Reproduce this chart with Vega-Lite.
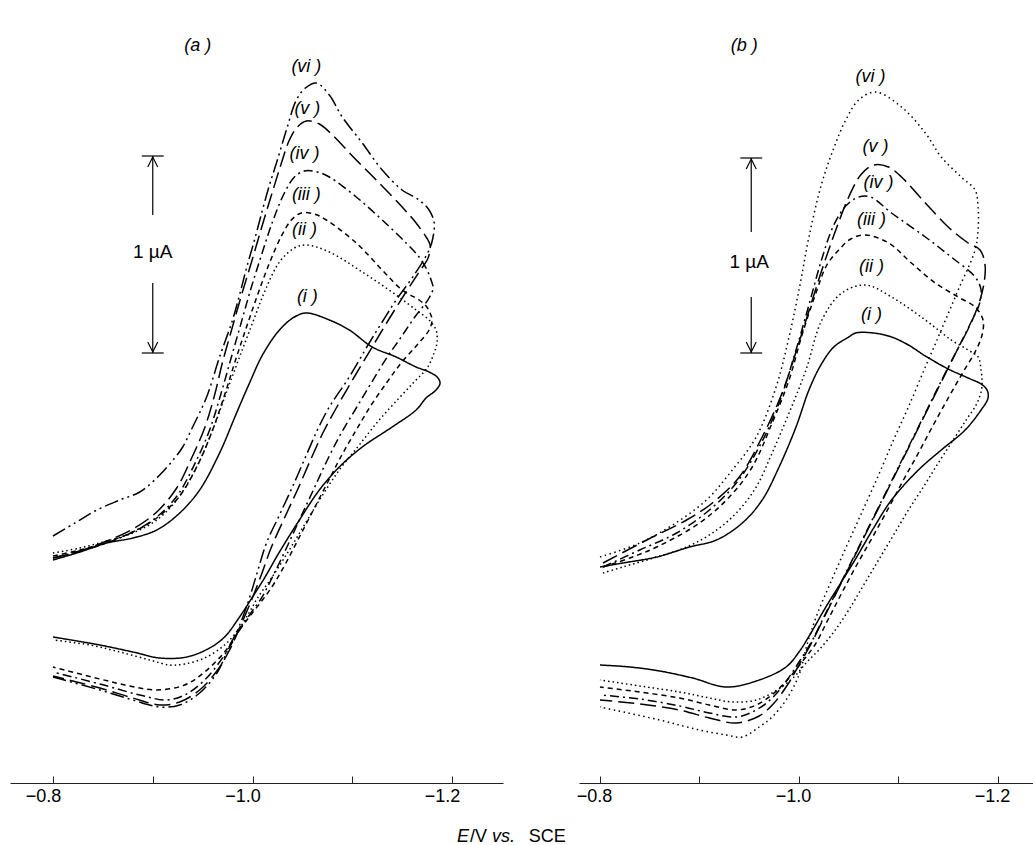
{
"$schema":"https://vega.github.io/schema/vega-lite/v6.json",
"background":"white",
"padding":{"left":10,"top":10,"right":0,"bottom":0},
"autosize":{"type":"pad"},
"spacing":76,
"bounds":"flush",
"resolve":{"scale":{"strokeDash":"independent"}},
"config":{"view":{"stroke":null},"font":"Liberation Sans","text":{"font":"Liberation Sans","color":"black"}},
"datasets":{
"cv":[
{"p":"a","c":"i","o":1,"E":-0.800,"I":1.115},{"p":"a","c":"i","o":2,"E":-0.827,"I":1.155},{"p":"a","c":"i","o":3,"E":-0.854,"I":1.200},{"p":"a","c":"i","o":4,"E":-0.880,"I":1.225},{"p":"a","c":"i","o":5,"E":-0.904,"I":1.265},{"p":"a","c":"i","o":6,"E":-0.927,"I":1.350},{"p":"a","c":"i","o":7,"E":-0.947,"I":1.465},{"p":"a","c":"i","o":8,"E":-0.967,"I":1.650},{"p":"a","c":"i","o":9,"E":-0.984,"I":1.850},{"p":"a","c":"i","o":10,"E":-0.997,"I":2.000},{"p":"a","c":"i","o":11,"E":-1.010,"I":2.140},{"p":"a","c":"i","o":12,"E":-1.027,"I":2.265},{"p":"a","c":"i","o":13,"E":-1.042,"I":2.330},{"p":"a","c":"i","o":14,"E":-1.054,"I":2.350},{"p":"a","c":"i","o":15,"E":-1.077,"I":2.315},{"p":"a","c":"i","o":16,"E":-1.097,"I":2.265},{"p":"a","c":"i","o":17,"E":-1.120,"I":2.180},{"p":"a","c":"i","o":18,"E":-1.144,"I":2.130},{"p":"a","c":"i","o":19,"E":-1.164,"I":2.080},{"p":"a","c":"i","o":20,"E":-1.177,"I":2.055},{"p":"a","c":"i","o":21,"E":-1.185,"I":2.030},{"p":"a","c":"i","o":22,"E":-1.188,"I":2.000},{"p":"a","c":"i","o":23,"E":-1.184,"I":1.965},{"p":"a","c":"i","o":24,"E":-1.174,"I":1.925},{"p":"a","c":"i","o":25,"E":-1.164,"I":1.865},{"p":"a","c":"i","o":26,"E":-1.140,"I":1.780},{"p":"a","c":"i","o":27,"E":-1.110,"I":1.680},{"p":"a","c":"i","o":28,"E":-1.087,"I":1.580},{"p":"a","c":"i","o":29,"E":-1.067,"I":1.465},{"p":"a","c":"i","o":30,"E":-1.047,"I":1.315},{"p":"a","c":"i","o":31,"E":-1.027,"I":1.155},{"p":"a","c":"i","o":32,"E":-1.012,"I":1.025},{"p":"a","c":"i","o":33,"E":-1.000,"I":0.930},{"p":"a","c":"i","o":34,"E":-0.987,"I":0.830},{"p":"a","c":"i","o":35,"E":-0.972,"I":0.730},{"p":"a","c":"i","o":36,"E":-0.957,"I":0.675},{"p":"a","c":"i","o":37,"E":-0.934,"I":0.630},{"p":"a","c":"i","o":38,"E":-0.907,"I":0.625},{"p":"a","c":"i","o":39,"E":-0.880,"I":0.655},{"p":"a","c":"i","o":40,"E":-0.847,"I":0.690},{"p":"a","c":"i","o":41,"E":-0.800,"I":0.730},
{"p":"a","c":"ii","o":1,"E":-0.800,"I":1.150},{"p":"a","c":"ii","o":2,"E":-0.827,"I":1.175},{"p":"a","c":"ii","o":3,"E":-0.854,"I":1.210},{"p":"a","c":"ii","o":4,"E":-0.880,"I":1.250},{"p":"a","c":"ii","o":5,"E":-0.904,"I":1.315},{"p":"a","c":"ii","o":6,"E":-0.924,"I":1.415},{"p":"a","c":"ii","o":7,"E":-0.944,"I":1.580},{"p":"a","c":"ii","o":8,"E":-0.960,"I":1.765},{"p":"a","c":"ii","o":9,"E":-0.974,"I":1.955},{"p":"a","c":"ii","o":10,"E":-0.987,"I":2.130},{"p":"a","c":"ii","o":11,"E":-1.000,"I":2.300},{"p":"a","c":"ii","o":12,"E":-1.012,"I":2.455},{"p":"a","c":"ii","o":13,"E":-1.027,"I":2.605},{"p":"a","c":"ii","o":14,"E":-1.042,"I":2.675},{"p":"a","c":"ii","o":15,"E":-1.054,"I":2.690},{"p":"a","c":"ii","o":16,"E":-1.077,"I":2.655},{"p":"a","c":"ii","o":17,"E":-1.110,"I":2.555},{"p":"a","c":"ii","o":18,"E":-1.144,"I":2.440},{"p":"a","c":"ii","o":19,"E":-1.164,"I":2.365},{"p":"a","c":"ii","o":20,"E":-1.177,"I":2.315},{"p":"a","c":"ii","o":21,"E":-1.184,"I":2.265},{"p":"a","c":"ii","o":22,"E":-1.185,"I":2.205},{"p":"a","c":"ii","o":23,"E":-1.182,"I":2.150},{"p":"a","c":"ii","o":24,"E":-1.175,"I":2.075},{"p":"a","c":"ii","o":25,"E":-1.162,"I":2.005},{"p":"a","c":"ii","o":26,"E":-1.147,"I":1.925},{"p":"a","c":"ii","o":27,"E":-1.127,"I":1.815},{"p":"a","c":"ii","o":28,"E":-1.107,"I":1.690},{"p":"a","c":"ii","o":29,"E":-1.087,"I":1.565},{"p":"a","c":"ii","o":30,"E":-1.069,"I":1.430},{"p":"a","c":"ii","o":31,"E":-1.052,"I":1.290},{"p":"a","c":"ii","o":32,"E":-1.035,"I":1.150},{"p":"a","c":"ii","o":33,"E":-1.019,"I":1.025},{"p":"a","c":"ii","o":34,"E":-1.005,"I":0.925},{"p":"a","c":"ii","o":35,"E":-0.997,"I":0.855},{"p":"a","c":"ii","o":36,"E":-0.987,"I":0.775},{"p":"a","c":"ii","o":37,"E":-0.972,"I":0.690},{"p":"a","c":"ii","o":38,"E":-0.952,"I":0.625},{"p":"a","c":"ii","o":39,"E":-0.932,"I":0.595},{"p":"a","c":"ii","o":40,"E":-0.917,"I":0.590},{"p":"a","c":"ii","o":41,"E":-0.897,"I":0.615},{"p":"a","c":"ii","o":42,"E":-0.867,"I":0.655},{"p":"a","c":"ii","o":43,"E":-0.837,"I":0.690},{"p":"a","c":"ii","o":44,"E":-0.800,"I":0.715},
{"p":"a","c":"iii","o":1,"E":-0.800,"I":1.135},{"p":"a","c":"iii","o":2,"E":-0.827,"I":1.165},{"p":"a","c":"iii","o":3,"E":-0.854,"I":1.205},{"p":"a","c":"iii","o":4,"E":-0.880,"I":1.255},{"p":"a","c":"iii","o":5,"E":-0.904,"I":1.325},{"p":"a","c":"iii","o":6,"E":-0.927,"I":1.435},{"p":"a","c":"iii","o":7,"E":-0.946,"I":1.600},{"p":"a","c":"iii","o":8,"E":-0.960,"I":1.765},{"p":"a","c":"iii","o":9,"E":-0.972,"I":1.940},{"p":"a","c":"iii","o":10,"E":-0.983,"I":2.115},{"p":"a","c":"iii","o":11,"E":-0.994,"I":2.280},{"p":"a","c":"iii","o":12,"E":-1.005,"I":2.440},{"p":"a","c":"iii","o":13,"E":-1.017,"I":2.600},{"p":"a","c":"iii","o":14,"E":-1.029,"I":2.735},{"p":"a","c":"iii","o":15,"E":-1.039,"I":2.815},{"p":"a","c":"iii","o":16,"E":-1.049,"I":2.850},{"p":"a","c":"iii","o":17,"E":-1.062,"I":2.845},{"p":"a","c":"iii","o":18,"E":-1.074,"I":2.815},{"p":"a","c":"iii","o":19,"E":-1.104,"I":2.700},{"p":"a","c":"iii","o":20,"E":-1.130,"I":2.565},{"p":"a","c":"iii","o":21,"E":-1.150,"I":2.465},{"p":"a","c":"iii","o":22,"E":-1.167,"I":2.415},{"p":"a","c":"iii","o":23,"E":-1.174,"I":2.385},{"p":"a","c":"iii","o":24,"E":-1.178,"I":2.350},{"p":"a","c":"iii","o":25,"E":-1.180,"I":2.315},{"p":"a","c":"iii","o":26,"E":-1.177,"I":2.265},{"p":"a","c":"iii","o":27,"E":-1.165,"I":2.190},{"p":"a","c":"iii","o":28,"E":-1.149,"I":2.100},{"p":"a","c":"iii","o":29,"E":-1.135,"I":2.005},{"p":"a","c":"iii","o":30,"E":-1.119,"I":1.890},{"p":"a","c":"iii","o":31,"E":-1.104,"I":1.765},{"p":"a","c":"iii","o":32,"E":-1.089,"I":1.635},{"p":"a","c":"iii","o":33,"E":-1.075,"I":1.500},{"p":"a","c":"iii","o":34,"E":-1.061,"I":1.365},{"p":"a","c":"iii","o":35,"E":-1.047,"I":1.230},{"p":"a","c":"iii","o":36,"E":-1.034,"I":1.105},{"p":"a","c":"iii","o":37,"E":-1.022,"I":1.000},{"p":"a","c":"iii","o":38,"E":-1.010,"I":0.915},{"p":"a","c":"iii","o":39,"E":-0.999,"I":0.845},{"p":"a","c":"iii","o":40,"E":-0.987,"I":0.765},{"p":"a","c":"iii","o":41,"E":-0.972,"I":0.655},{"p":"a","c":"iii","o":42,"E":-0.952,"I":0.555},{"p":"a","c":"iii","o":43,"E":-0.932,"I":0.490},{"p":"a","c":"iii","o":44,"E":-0.904,"I":0.465},{"p":"a","c":"iii","o":45,"E":-0.877,"I":0.485},{"p":"a","c":"iii","o":46,"E":-0.847,"I":0.520},{"p":"a","c":"iii","o":47,"E":-0.800,"I":0.580},
{"p":"a","c":"iv","o":1,"E":-0.800,"I":1.125},{"p":"a","c":"iv","o":2,"E":-0.827,"I":1.160},{"p":"a","c":"iv","o":3,"E":-0.854,"I":1.200},{"p":"a","c":"iv","o":4,"E":-0.880,"I":1.255},{"p":"a","c":"iv","o":5,"E":-0.904,"I":1.330},{"p":"a","c":"iv","o":6,"E":-0.925,"I":1.440},{"p":"a","c":"iv","o":7,"E":-0.943,"I":1.605},{"p":"a","c":"iv","o":8,"E":-0.957,"I":1.765},{"p":"a","c":"iv","o":9,"E":-0.968,"I":1.940},{"p":"a","c":"iv","o":10,"E":-0.978,"I":2.115},{"p":"a","c":"iv","o":11,"E":-0.988,"I":2.290},{"p":"a","c":"iv","o":12,"E":-0.998,"I":2.465},{"p":"a","c":"iv","o":13,"E":-1.009,"I":2.640},{"p":"a","c":"iv","o":14,"E":-1.020,"I":2.805},{"p":"a","c":"iv","o":15,"E":-1.032,"I":2.950},{"p":"a","c":"iv","o":16,"E":-1.042,"I":3.030},{"p":"a","c":"iv","o":17,"E":-1.052,"I":3.060},{"p":"a","c":"iv","o":18,"E":-1.065,"I":3.055},{"p":"a","c":"iv","o":19,"E":-1.077,"I":3.030},{"p":"a","c":"iv","o":20,"E":-1.104,"I":2.930},{"p":"a","c":"iv","o":21,"E":-1.130,"I":2.815},{"p":"a","c":"iv","o":22,"E":-1.154,"I":2.700},{"p":"a","c":"iv","o":23,"E":-1.167,"I":2.630},{"p":"a","c":"iv","o":24,"E":-1.175,"I":2.565},{"p":"a","c":"iv","o":25,"E":-1.179,"I":2.515},{"p":"a","c":"iv","o":26,"E":-1.181,"I":2.475},{"p":"a","c":"iv","o":27,"E":-1.177,"I":2.425},{"p":"a","c":"iv","o":28,"E":-1.162,"I":2.325},{"p":"a","c":"iv","o":29,"E":-1.147,"I":2.215},{"p":"a","c":"iv","o":30,"E":-1.135,"I":2.130},{"p":"a","c":"iv","o":31,"E":-1.119,"I":2.000},{"p":"a","c":"iv","o":32,"E":-1.104,"I":1.875},{"p":"a","c":"iv","o":33,"E":-1.089,"I":1.750},{"p":"a","c":"iv","o":34,"E":-1.075,"I":1.615},{"p":"a","c":"iv","o":35,"E":-1.061,"I":1.465},{"p":"a","c":"iv","o":36,"E":-1.047,"I":1.315},{"p":"a","c":"iv","o":37,"E":-1.034,"I":1.175},{"p":"a","c":"iv","o":38,"E":-1.021,"I":1.040},{"p":"a","c":"iv","o":39,"E":-1.009,"I":0.925},{"p":"a","c":"iv","o":40,"E":-0.999,"I":0.855},{"p":"a","c":"iv","o":41,"E":-0.987,"I":0.765},{"p":"a","c":"iv","o":42,"E":-0.972,"I":0.640},{"p":"a","c":"iv","o":43,"E":-0.952,"I":0.515},{"p":"a","c":"iv","o":44,"E":-0.932,"I":0.440},{"p":"a","c":"iv","o":45,"E":-0.914,"I":0.415},{"p":"a","c":"iv","o":46,"E":-0.887,"I":0.440},{"p":"a","c":"iv","o":47,"E":-0.847,"I":0.495},{"p":"a","c":"iv","o":48,"E":-0.800,"I":0.555},
{"p":"a","c":"v","o":1,"E":-0.800,"I":1.125},{"p":"a","c":"v","o":2,"E":-0.827,"I":1.160},{"p":"a","c":"v","o":3,"E":-0.854,"I":1.210},{"p":"a","c":"v","o":4,"E":-0.880,"I":1.270},{"p":"a","c":"v","o":5,"E":-0.904,"I":1.355},{"p":"a","c":"v","o":6,"E":-0.924,"I":1.475},{"p":"a","c":"v","o":7,"E":-0.939,"I":1.625},{"p":"a","c":"v","o":8,"E":-0.952,"I":1.775},{"p":"a","c":"v","o":9,"E":-0.962,"I":1.940},{"p":"a","c":"v","o":10,"E":-0.970,"I":2.105},{"p":"a","c":"v","o":11,"E":-0.979,"I":2.265},{"p":"a","c":"v","o":12,"E":-0.989,"I":2.440},{"p":"a","c":"v","o":13,"E":-0.999,"I":2.605},{"p":"a","c":"v","o":14,"E":-1.009,"I":2.775},{"p":"a","c":"v","o":15,"E":-1.019,"I":2.940},{"p":"a","c":"v","o":16,"E":-1.029,"I":3.100},{"p":"a","c":"v","o":17,"E":-1.037,"I":3.215},{"p":"a","c":"v","o":18,"E":-1.045,"I":3.280},{"p":"a","c":"v","o":19,"E":-1.054,"I":3.310},{"p":"a","c":"v","o":20,"E":-1.067,"I":3.295},{"p":"a","c":"v","o":21,"E":-1.077,"I":3.255},{"p":"a","c":"v","o":22,"E":-1.104,"I":3.115},{"p":"a","c":"v","o":23,"E":-1.127,"I":3.000},{"p":"a","c":"v","o":24,"E":-1.150,"I":2.880},{"p":"a","c":"v","o":25,"E":-1.164,"I":2.800},{"p":"a","c":"v","o":26,"E":-1.174,"I":2.730},{"p":"a","c":"v","o":27,"E":-1.178,"I":2.690},{"p":"a","c":"v","o":28,"E":-1.176,"I":2.625},{"p":"a","c":"v","o":29,"E":-1.167,"I":2.555},{"p":"a","c":"v","o":30,"E":-1.152,"I":2.440},{"p":"a","c":"v","o":31,"E":-1.135,"I":2.305},{"p":"a","c":"v","o":32,"E":-1.120,"I":2.180},{"p":"a","c":"v","o":33,"E":-1.102,"I":2.030},{"p":"a","c":"v","o":34,"E":-1.084,"I":1.875},{"p":"a","c":"v","o":35,"E":-1.071,"I":1.755},{"p":"a","c":"v","o":36,"E":-1.059,"I":1.625},{"p":"a","c":"v","o":37,"E":-1.045,"I":1.465},{"p":"a","c":"v","o":38,"E":-1.032,"I":1.325},{"p":"a","c":"v","o":39,"E":-1.019,"I":1.180},{"p":"a","c":"v","o":40,"E":-1.008,"I":1.030},{"p":"a","c":"v","o":41,"E":-0.997,"I":0.890},{"p":"a","c":"v","o":42,"E":-0.987,"I":0.775},{"p":"a","c":"v","o":43,"E":-0.977,"I":0.665},{"p":"a","c":"v","o":44,"E":-0.965,"I":0.565},{"p":"a","c":"v","o":45,"E":-0.947,"I":0.465},{"p":"a","c":"v","o":46,"E":-0.927,"I":0.405},{"p":"a","c":"v","o":47,"E":-0.907,"I":0.390},{"p":"a","c":"v","o":48,"E":-0.880,"I":0.425},{"p":"a","c":"v","o":49,"E":-0.847,"I":0.475},{"p":"a","c":"v","o":50,"E":-0.800,"I":0.535},
{"p":"a","c":"vi","o":1,"E":-0.800,"I":1.235},{"p":"a","c":"vi","o":2,"E":-0.822,"I":1.300},{"p":"a","c":"vi","o":3,"E":-0.844,"I":1.365},{"p":"a","c":"vi","o":4,"E":-0.867,"I":1.415},{"p":"a","c":"vi","o":5,"E":-0.887,"I":1.455},{"p":"a","c":"vi","o":6,"E":-0.907,"I":1.540},{"p":"a","c":"vi","o":7,"E":-0.922,"I":1.625},{"p":"a","c":"vi","o":8,"E":-0.930,"I":1.680},{"p":"a","c":"vi","o":9,"E":-0.940,"I":1.780},{"p":"a","c":"vi","o":10,"E":-0.954,"I":1.930},{"p":"a","c":"vi","o":11,"E":-0.967,"I":2.130},{"p":"a","c":"vi","o":12,"E":-0.980,"I":2.315},{"p":"a","c":"vi","o":13,"E":-0.987,"I":2.440},{"p":"a","c":"vi","o":14,"E":-0.994,"I":2.575},{"p":"a","c":"vi","o":15,"E":-1.002,"I":2.715},{"p":"a","c":"vi","o":16,"E":-1.010,"I":2.865},{"p":"a","c":"vi","o":17,"E":-1.017,"I":2.990},{"p":"a","c":"vi","o":18,"E":-1.024,"I":3.100},{"p":"a","c":"vi","o":19,"E":-1.034,"I":3.265},{"p":"a","c":"vi","o":20,"E":-1.044,"I":3.415},{"p":"a","c":"vi","o":21,"E":-1.053,"I":3.475},{"p":"a","c":"vi","o":22,"E":-1.064,"I":3.500},{"p":"a","c":"vi","o":23,"E":-1.077,"I":3.440},{"p":"a","c":"vi","o":24,"E":-1.090,"I":3.330},{"p":"a","c":"vi","o":25,"E":-1.110,"I":3.200},{"p":"a","c":"vi","o":26,"E":-1.130,"I":3.065},{"p":"a","c":"vi","o":27,"E":-1.150,"I":2.965},{"p":"a","c":"vi","o":28,"E":-1.167,"I":2.915},{"p":"a","c":"vi","o":29,"E":-1.177,"I":2.865},{"p":"a","c":"vi","o":30,"E":-1.182,"I":2.805},{"p":"a","c":"vi","o":31,"E":-1.181,"I":2.730},{"p":"a","c":"vi","o":32,"E":-1.177,"I":2.665},{"p":"a","c":"vi","o":33,"E":-1.162,"I":2.540},{"p":"a","c":"vi","o":34,"E":-1.144,"I":2.415},{"p":"a","c":"vi","o":35,"E":-1.130,"I":2.305},{"p":"a","c":"vi","o":36,"E":-1.117,"I":2.200},{"p":"a","c":"vi","o":37,"E":-1.097,"I":2.030},{"p":"a","c":"vi","o":38,"E":-1.077,"I":1.880},{"p":"a","c":"vi","o":39,"E":-1.065,"I":1.765},{"p":"a","c":"vi","o":40,"E":-1.054,"I":1.640},{"p":"a","c":"vi","o":41,"E":-1.040,"I":1.480},{"p":"a","c":"vi","o":42,"E":-1.027,"I":1.340},{"p":"a","c":"vi","o":43,"E":-1.014,"I":1.200},{"p":"a","c":"vi","o":44,"E":-1.004,"I":1.040},{"p":"a","c":"vi","o":45,"E":-0.994,"I":0.880},{"p":"a","c":"vi","o":46,"E":-0.985,"I":0.765},{"p":"a","c":"vi","o":47,"E":-0.975,"I":0.665},{"p":"a","c":"vi","o":48,"E":-0.965,"I":0.555},{"p":"a","c":"vi","o":49,"E":-0.947,"I":0.450},{"p":"a","c":"vi","o":50,"E":-0.927,"I":0.390},{"p":"a","c":"vi","o":51,"E":-0.907,"I":0.380},{"p":"a","c":"vi","o":52,"E":-0.880,"I":0.415},{"p":"a","c":"vi","o":53,"E":-0.847,"I":0.465},{"p":"a","c":"vi","o":54,"E":-0.800,"I":0.530},
{"p":"b","c":"i","o":1,"E":-0.800,"I":1.080},{"p":"b","c":"i","o":2,"E":-0.823,"I":1.100},{"p":"b","c":"i","o":3,"E":-0.857,"I":1.130},{"p":"b","c":"i","o":4,"E":-0.890,"I":1.180},{"p":"b","c":"i","o":5,"E":-0.917,"I":1.215},{"p":"b","c":"i","o":6,"E":-0.943,"I":1.300},{"p":"b","c":"i","o":7,"E":-0.963,"I":1.415},{"p":"b","c":"i","o":8,"E":-0.980,"I":1.580},{"p":"b","c":"i","o":9,"E":-0.997,"I":1.780},{"p":"b","c":"i","o":10,"E":-1.010,"I":1.965},{"p":"b","c":"i","o":11,"E":-1.022,"I":2.090},{"p":"b","c":"i","o":12,"E":-1.035,"I":2.180},{"p":"b","c":"i","o":13,"E":-1.050,"I":2.230},{"p":"b","c":"i","o":14,"E":-1.057,"I":2.250},{"p":"b","c":"i","o":15,"E":-1.075,"I":2.250},{"p":"b","c":"i","o":16,"E":-1.093,"I":2.230},{"p":"b","c":"i","o":17,"E":-1.110,"I":2.190},{"p":"b","c":"i","o":18,"E":-1.127,"I":2.135},{"p":"b","c":"i","o":19,"E":-1.150,"I":2.070},{"p":"b","c":"i","o":20,"E":-1.170,"I":2.025},{"p":"b","c":"i","o":21,"E":-1.183,"I":1.995},{"p":"b","c":"i","o":22,"E":-1.189,"I":1.965},{"p":"b","c":"i","o":23,"E":-1.190,"I":1.925},{"p":"b","c":"i","o":24,"E":-1.183,"I":1.865},{"p":"b","c":"i","o":25,"E":-1.167,"I":1.765},{"p":"b","c":"i","o":26,"E":-1.143,"I":1.665},{"p":"b","c":"i","o":27,"E":-1.120,"I":1.565},{"p":"b","c":"i","o":28,"E":-1.093,"I":1.415},{"p":"b","c":"i","o":29,"E":-1.075,"I":1.275},{"p":"b","c":"i","o":30,"E":-1.058,"I":1.130},{"p":"b","c":"i","o":31,"E":-1.042,"I":1.000},{"p":"b","c":"i","o":32,"E":-1.027,"I":0.880},{"p":"b","c":"i","o":33,"E":-1.012,"I":0.750},{"p":"b","c":"i","o":34,"E":-1.000,"I":0.655},{"p":"b","c":"i","o":35,"E":-0.987,"I":0.580},{"p":"b","c":"i","o":36,"E":-0.960,"I":0.515},{"p":"b","c":"i","o":37,"E":-0.927,"I":0.480},{"p":"b","c":"i","o":38,"E":-0.893,"I":0.525},{"p":"b","c":"i","o":39,"E":-0.860,"I":0.560},{"p":"b","c":"i","o":40,"E":-0.830,"I":0.580},{"p":"b","c":"i","o":41,"E":-0.800,"I":0.590},
{"p":"b","c":"ii","o":1,"E":-0.803,"I":1.050},{"p":"b","c":"ii","o":2,"E":-0.823,"I":1.080},{"p":"b","c":"ii","o":3,"E":-0.857,"I":1.130},{"p":"b","c":"ii","o":4,"E":-0.887,"I":1.180},{"p":"b","c":"ii","o":5,"E":-0.913,"I":1.250},{"p":"b","c":"ii","o":6,"E":-0.937,"I":1.350},{"p":"b","c":"ii","o":7,"E":-0.957,"I":1.480},{"p":"b","c":"ii","o":8,"E":-0.973,"I":1.650},{"p":"b","c":"ii","o":9,"E":-0.990,"I":1.850},{"p":"b","c":"ii","o":10,"E":-1.007,"I":2.065},{"p":"b","c":"ii","o":11,"E":-1.023,"I":2.315},{"p":"b","c":"ii","o":12,"E":-1.043,"I":2.450},{"p":"b","c":"ii","o":13,"E":-1.067,"I":2.490},{"p":"b","c":"ii","o":14,"E":-1.093,"I":2.430},{"p":"b","c":"ii","o":15,"E":-1.127,"I":2.315},{"p":"b","c":"ii","o":16,"E":-1.153,"I":2.215},{"p":"b","c":"ii","o":17,"E":-1.170,"I":2.165},{"p":"b","c":"ii","o":18,"E":-1.180,"I":2.130},{"p":"b","c":"ii","o":19,"E":-1.183,"I":2.065},{"p":"b","c":"ii","o":20,"E":-1.184,"I":2.000},{"p":"b","c":"ii","o":21,"E":-1.183,"I":1.955},{"p":"b","c":"ii","o":22,"E":-1.178,"I":1.890},{"p":"b","c":"ii","o":23,"E":-1.168,"I":1.815},{"p":"b","c":"ii","o":24,"E":-1.155,"I":1.715},{"p":"b","c":"ii","o":25,"E":-1.140,"I":1.600},{"p":"b","c":"ii","o":26,"E":-1.125,"I":1.480},{"p":"b","c":"ii","o":27,"E":-1.110,"I":1.365},{"p":"b","c":"ii","o":28,"E":-1.095,"I":1.240},{"p":"b","c":"ii","o":29,"E":-1.080,"I":1.115},{"p":"b","c":"ii","o":30,"E":-1.065,"I":0.990},{"p":"b","c":"ii","o":31,"E":-1.050,"I":0.865},{"p":"b","c":"ii","o":32,"E":-1.035,"I":0.755},{"p":"b","c":"ii","o":33,"E":-1.020,"I":0.665},{"p":"b","c":"ii","o":34,"E":-1.008,"I":0.605},{"p":"b","c":"ii","o":35,"E":-0.995,"I":0.530},{"p":"b","c":"ii","o":36,"E":-0.978,"I":0.465},{"p":"b","c":"ii","o":37,"E":-0.957,"I":0.415},{"p":"b","c":"ii","o":38,"E":-0.933,"I":0.405},{"p":"b","c":"ii","o":39,"E":-0.910,"I":0.425},{"p":"b","c":"ii","o":40,"E":-0.880,"I":0.455},{"p":"b","c":"ii","o":41,"E":-0.840,"I":0.485},{"p":"b","c":"ii","o":42,"E":-0.800,"I":0.515},
{"p":"b","c":"iii","o":1,"E":-0.803,"I":1.080},{"p":"b","c":"iii","o":2,"E":-0.830,"I":1.125},{"p":"b","c":"iii","o":3,"E":-0.857,"I":1.180},{"p":"b","c":"iii","o":4,"E":-0.900,"I":1.300},{"p":"b","c":"iii","o":5,"E":-0.930,"I":1.430},{"p":"b","c":"iii","o":6,"E":-0.953,"I":1.580},{"p":"b","c":"iii","o":7,"E":-0.973,"I":1.800},{"p":"b","c":"iii","o":8,"E":-0.990,"I":2.015},{"p":"b","c":"iii","o":9,"E":-1.003,"I":2.240},{"p":"b","c":"iii","o":10,"E":-1.017,"I":2.450},{"p":"b","c":"iii","o":11,"E":-1.028,"I":2.590},{"p":"b","c":"iii","o":12,"E":-1.040,"I":2.665},{"p":"b","c":"iii","o":13,"E":-1.052,"I":2.720},{"p":"b","c":"iii","o":14,"E":-1.067,"I":2.740},{"p":"b","c":"iii","o":15,"E":-1.090,"I":2.700},{"p":"b","c":"iii","o":16,"E":-1.113,"I":2.600},{"p":"b","c":"iii","o":17,"E":-1.137,"I":2.500},{"p":"b","c":"iii","o":18,"E":-1.160,"I":2.430},{"p":"b","c":"iii","o":19,"E":-1.177,"I":2.380},{"p":"b","c":"iii","o":20,"E":-1.185,"I":2.315},{"p":"b","c":"iii","o":21,"E":-1.184,"I":2.240},{"p":"b","c":"iii","o":22,"E":-1.178,"I":2.165},{"p":"b","c":"iii","o":23,"E":-1.165,"I":2.055},{"p":"b","c":"iii","o":24,"E":-1.150,"I":1.925},{"p":"b","c":"iii","o":25,"E":-1.135,"I":1.790},{"p":"b","c":"iii","o":26,"E":-1.120,"I":1.650},{"p":"b","c":"iii","o":27,"E":-1.105,"I":1.515},{"p":"b","c":"iii","o":28,"E":-1.090,"I":1.375},{"p":"b","c":"iii","o":29,"E":-1.074,"I":1.230},{"p":"b","c":"iii","o":30,"E":-1.058,"I":1.090},{"p":"b","c":"iii","o":31,"E":-1.043,"I":0.950},{"p":"b","c":"iii","o":32,"E":-1.029,"I":0.815},{"p":"b","c":"iii","o":33,"E":-1.016,"I":0.690},{"p":"b","c":"iii","o":34,"E":-1.003,"I":0.605},{"p":"b","c":"iii","o":35,"E":-0.990,"I":0.525},{"p":"b","c":"iii","o":36,"E":-0.975,"I":0.450},{"p":"b","c":"iii","o":37,"E":-0.957,"I":0.390},{"p":"b","c":"iii","o":38,"E":-0.937,"I":0.365},{"p":"b","c":"iii","o":39,"E":-0.910,"I":0.390},{"p":"b","c":"iii","o":40,"E":-0.880,"I":0.425},{"p":"b","c":"iii","o":41,"E":-0.840,"I":0.455},{"p":"b","c":"iii","o":42,"E":-0.800,"I":0.480},
{"p":"b","c":"iv","o":1,"E":-0.803,"I":1.080},{"p":"b","c":"iv","o":2,"E":-0.840,"I":1.165},{"p":"b","c":"iv","o":3,"E":-0.877,"I":1.250},{"p":"b","c":"iv","o":4,"E":-0.910,"I":1.365},{"p":"b","c":"iv","o":5,"E":-0.937,"I":1.500},{"p":"b","c":"iv","o":6,"E":-0.960,"I":1.680},{"p":"b","c":"iv","o":7,"E":-0.980,"I":1.900},{"p":"b","c":"iv","o":8,"E":-0.997,"I":2.165},{"p":"b","c":"iv","o":9,"E":-1.010,"I":2.390},{"p":"b","c":"iv","o":10,"E":-1.022,"I":2.605},{"p":"b","c":"iv","o":11,"E":-1.035,"I":2.790},{"p":"b","c":"iv","o":12,"E":-1.048,"I":2.890},{"p":"b","c":"iv","o":13,"E":-1.060,"I":2.930},{"p":"b","c":"iv","o":14,"E":-1.072,"I":2.930},{"p":"b","c":"iv","o":15,"E":-1.093,"I":2.850},{"p":"b","c":"iv","o":16,"E":-1.127,"I":2.730},{"p":"b","c":"iv","o":17,"E":-1.153,"I":2.630},{"p":"b","c":"iv","o":18,"E":-1.177,"I":2.530},{"p":"b","c":"iv","o":19,"E":-1.183,"I":2.465},{"p":"b","c":"iv","o":20,"E":-1.181,"I":2.390},{"p":"b","c":"iv","o":21,"E":-1.173,"I":2.305},{"p":"b","c":"iv","o":22,"E":-1.160,"I":2.175},{"p":"b","c":"iv","o":23,"E":-1.145,"I":2.030},{"p":"b","c":"iv","o":24,"E":-1.130,"I":1.880},{"p":"b","c":"iv","o":25,"E":-1.115,"I":1.730},{"p":"b","c":"iv","o":26,"E":-1.100,"I":1.580},{"p":"b","c":"iv","o":27,"E":-1.085,"I":1.430},{"p":"b","c":"iv","o":28,"E":-1.070,"I":1.280},{"p":"b","c":"iv","o":29,"E":-1.055,"I":1.130},{"p":"b","c":"iv","o":30,"E":-1.040,"I":0.980},{"p":"b","c":"iv","o":31,"E":-1.026,"I":0.840},{"p":"b","c":"iv","o":32,"E":-1.013,"I":0.710},{"p":"b","c":"iv","o":33,"E":-1.000,"I":0.605},{"p":"b","c":"iv","o":34,"E":-0.988,"I":0.515},{"p":"b","c":"iv","o":35,"E":-0.973,"I":0.425},{"p":"b","c":"iv","o":36,"E":-0.957,"I":0.365},{"p":"b","c":"iv","o":37,"E":-0.937,"I":0.330},{"p":"b","c":"iv","o":38,"E":-0.910,"I":0.350},{"p":"b","c":"iv","o":39,"E":-0.880,"I":0.385},{"p":"b","c":"iv","o":40,"E":-0.840,"I":0.420},{"p":"b","c":"iv","o":41,"E":-0.800,"I":0.440},
{"p":"b","c":"v","o":1,"E":-0.803,"I":1.100},{"p":"b","c":"v","o":2,"E":-0.847,"I":1.215},{"p":"b","c":"v","o":3,"E":-0.887,"I":1.315},{"p":"b","c":"v","o":4,"E":-0.913,"I":1.400},{"p":"b","c":"v","o":5,"E":-0.940,"I":1.530},{"p":"b","c":"v","o":6,"E":-0.963,"I":1.730},{"p":"b","c":"v","o":7,"E":-0.983,"I":1.950},{"p":"b","c":"v","o":8,"E":-1.003,"I":2.250},{"p":"b","c":"v","o":9,"E":-1.023,"I":2.565},{"p":"b","c":"v","o":10,"E":-1.037,"I":2.765},{"p":"b","c":"v","o":11,"E":-1.050,"I":2.930},{"p":"b","c":"v","o":12,"E":-1.062,"I":3.040},{"p":"b","c":"v","o":13,"E":-1.075,"I":3.090},{"p":"b","c":"v","o":14,"E":-1.090,"I":3.080},{"p":"b","c":"v","o":15,"E":-1.103,"I":3.030},{"p":"b","c":"v","o":16,"E":-1.127,"I":2.900},{"p":"b","c":"v","o":17,"E":-1.150,"I":2.780},{"p":"b","c":"v","o":18,"E":-1.170,"I":2.700},{"p":"b","c":"v","o":19,"E":-1.182,"I":2.665},{"p":"b","c":"v","o":20,"E":-1.187,"I":2.590},{"p":"b","c":"v","o":21,"E":-1.186,"I":2.500},{"p":"b","c":"v","o":22,"E":-1.181,"I":2.400},{"p":"b","c":"v","o":23,"E":-1.172,"I":2.290},{"p":"b","c":"v","o":24,"E":-1.158,"I":2.155},{"p":"b","c":"v","o":25,"E":-1.143,"I":2.005},{"p":"b","c":"v","o":26,"E":-1.128,"I":1.855},{"p":"b","c":"v","o":27,"E":-1.113,"I":1.705},{"p":"b","c":"v","o":28,"E":-1.098,"I":1.555},{"p":"b","c":"v","o":29,"E":-1.083,"I":1.405},{"p":"b","c":"v","o":30,"E":-1.068,"I":1.255},{"p":"b","c":"v","o":31,"E":-1.053,"I":1.105},{"p":"b","c":"v","o":32,"E":-1.038,"I":0.955},{"p":"b","c":"v","o":33,"E":-1.024,"I":0.815},{"p":"b","c":"v","o":34,"E":-1.011,"I":0.685},{"p":"b","c":"v","o":35,"E":-1.000,"I":0.590},{"p":"b","c":"v","o":36,"E":-0.989,"I":0.495},{"p":"b","c":"v","o":37,"E":-0.975,"I":0.400},{"p":"b","c":"v","o":38,"E":-0.960,"I":0.335},{"p":"b","c":"v","o":39,"E":-0.937,"I":0.300},{"p":"b","c":"v","o":40,"E":-0.910,"I":0.325},{"p":"b","c":"v","o":41,"E":-0.880,"I":0.365},{"p":"b","c":"v","o":42,"E":-0.840,"I":0.395},{"p":"b","c":"v","o":43,"E":-0.800,"I":0.415},
{"p":"b","c":"vi","o":1,"E":-0.800,"I":1.130},{"p":"b","c":"vi","o":2,"E":-0.840,"I":1.200},{"p":"b","c":"vi","o":3,"E":-0.873,"I":1.290},{"p":"b","c":"vi","o":4,"E":-0.907,"I":1.415},{"p":"b","c":"vi","o":5,"E":-0.933,"I":1.565},{"p":"b","c":"vi","o":6,"E":-0.957,"I":1.730},{"p":"b","c":"vi","o":7,"E":-0.977,"I":1.980},{"p":"b","c":"vi","o":8,"E":-0.990,"I":2.230},{"p":"b","c":"vi","o":9,"E":-1.001,"I":2.490},{"p":"b","c":"vi","o":10,"E":-1.010,"I":2.730},{"p":"b","c":"vi","o":11,"E":-1.023,"I":3.000},{"p":"b","c":"vi","o":12,"E":-1.035,"I":3.175},{"p":"b","c":"vi","o":13,"E":-1.047,"I":3.315},{"p":"b","c":"vi","o":14,"E":-1.060,"I":3.415},{"p":"b","c":"vi","o":15,"E":-1.077,"I":3.455},{"p":"b","c":"vi","o":16,"E":-1.103,"I":3.380},{"p":"b","c":"vi","o":17,"E":-1.127,"I":3.250},{"p":"b","c":"vi","o":18,"E":-1.143,"I":3.130},{"p":"b","c":"vi","o":19,"E":-1.163,"I":3.030},{"p":"b","c":"vi","o":20,"E":-1.177,"I":2.965},{"p":"b","c":"vi","o":21,"E":-1.180,"I":2.880},{"p":"b","c":"vi","o":22,"E":-1.180,"I":2.765},{"p":"b","c":"vi","o":23,"E":-1.177,"I":2.665},{"p":"b","c":"vi","o":24,"E":-1.160,"I":2.465},{"p":"b","c":"vi","o":25,"E":-1.143,"I":2.265},{"p":"b","c":"vi","o":26,"E":-1.127,"I":2.080},{"p":"b","c":"vi","o":27,"E":-1.110,"I":1.880},{"p":"b","c":"vi","o":28,"E":-1.095,"I":1.715},{"p":"b","c":"vi","o":29,"E":-1.080,"I":1.540},{"p":"b","c":"vi","o":30,"E":-1.062,"I":1.340},{"p":"b","c":"vi","o":31,"E":-1.047,"I":1.175},{"p":"b","c":"vi","o":32,"E":-1.032,"I":1.005},{"p":"b","c":"vi","o":33,"E":-1.018,"I":0.840},{"p":"b","c":"vi","o":34,"E":-1.008,"I":0.690},{"p":"b","c":"vi","o":35,"E":-1.000,"I":0.540},{"p":"b","c":"vi","o":36,"E":-0.987,"I":0.415},{"p":"b","c":"vi","o":37,"E":-0.973,"I":0.330},{"p":"b","c":"vi","o":38,"E":-0.960,"I":0.280},{"p":"b","c":"vi","o":39,"E":-0.943,"I":0.230},{"p":"b","c":"vi","o":40,"E":-0.927,"I":0.240},{"p":"b","c":"vi","o":41,"E":-0.900,"I":0.265},{"p":"b","c":"vi","o":42,"E":-0.860,"I":0.315},{"p":"b","c":"vi","o":43,"E":-0.800,"I":0.380}
],
"bar":[
{"p":"a","s":1,"o":1,"E":-0.889,"I":3.135},{"p":"a","s":1,"o":2,"E":-0.911,"I":3.135},
{"p":"a","s":2,"o":1,"E":-0.900,"I":3.135},{"p":"a","s":2,"o":2,"E":-0.900,"I":2.84},
{"p":"a","s":3,"o":1,"E":-0.895,"I":3.08},{"p":"a","s":3,"o":2,"E":-0.900,"I":3.13},{"p":"a","s":3,"o":3,"E":-0.905,"I":3.08},
{"p":"a","s":4,"o":1,"E":-0.900,"I":2.50},{"p":"a","s":4,"o":2,"E":-0.900,"I":2.15},
{"p":"a","s":5,"o":1,"E":-0.895,"I":2.205},{"p":"a","s":5,"o":2,"E":-0.900,"I":2.155},{"p":"a","s":5,"o":3,"E":-0.905,"I":2.205},
{"p":"a","s":6,"o":1,"E":-0.889,"I":2.15},{"p":"a","s":6,"o":2,"E":-0.911,"I":2.15},
{"p":"b","s":1,"o":1,"E":-0.941,"I":3.125},{"p":"b","s":1,"o":2,"E":-0.963,"I":3.125},
{"p":"b","s":2,"o":1,"E":-0.952,"I":3.125},{"p":"b","s":2,"o":2,"E":-0.952,"I":2.755},
{"p":"b","s":3,"o":1,"E":-0.947,"I":3.07},{"p":"b","s":3,"o":2,"E":-0.952,"I":3.12},{"p":"b","s":3,"o":3,"E":-0.957,"I":3.07},
{"p":"b","s":4,"o":1,"E":-0.952,"I":2.43},{"p":"b","s":4,"o":2,"E":-0.952,"I":2.15},
{"p":"b","s":5,"o":1,"E":-0.947,"I":2.205},{"p":"b","s":5,"o":2,"E":-0.952,"I":2.155},{"p":"b","s":5,"o":3,"E":-0.957,"I":2.205},
{"p":"b","s":6,"o":1,"E":-0.941,"I":2.15},{"p":"b","s":6,"o":2,"E":-0.963,"I":2.15}
],
"lab":[
{"p":"a","t":"(vi )","E":-1.054,"I":3.58},{"p":"a","t":"(v )","E":-1.055,"I":3.37},{"p":"a","t":"(iv )","E":-1.052,"I":3.145},{"p":"a","t":"(iii )","E":-1.054,"I":2.94},{"p":"a","t":"(ii )","E":-1.052,"I":2.765},{"p":"a","t":"(i )","E":-1.055,"I":2.43},{"p":"a","t":"(a )","E":-0.945,"I":3.685},
{"p":"b","t":"(vi )","E":-1.072,"I":3.53},{"p":"b","t":"(v )","E":-1.077,"I":3.18},{"p":"b","t":"(iv )","E":-1.080,"I":3.0},{"p":"b","t":"(iii )","E":-1.073,"I":2.815},{"p":"b","t":"(ii )","E":-1.073,"I":2.58},{"p":"b","t":"(i )","E":-1.073,"I":2.34},{"p":"b","t":"(b )","E":-0.945,"I":3.685}
],
"unit":[{"p":"a","t":"1 µA","E":-0.900,"I":2.655},{"p":"b","t":"1 µA","E":-0.950,"I":2.605}],
"ttl":[{"t":"E","E":-1.205,"I":-0.295},{"t":"/V","E":-1.218,"I":-0.295},{"t":"vs.","E":-1.240,"I":-0.295},{"t":"SCE","E":-1.277,"I":-0.295}]
},
"hconcat":[
{
"width":493,"height":773,
"encoding":{
"x":{"field":"E","type":"quantitative","scale":{"domain":[-1.2511,-0.7569],"reverse":true,"nice":false,"zero":false},
"axis":{"values":[-0.8,-0.9,-1.0,-1.1,-1.2],"format":".1f","labelExpr":"abs(datum.value+0.9)<0.01||abs(datum.value+1.1)<0.01?'':datum.label","title":null,"grid":false,"domainColor":"#222","domainWidth":1,"tickColor":"#222","tickSize":-7,"tickWidth":1,"labelFontSize":18,"labelFont":"Liberation Sans","labelColor":"black","labelPadding":11,"labelOffset":-10,"labelFlush":false}},
"y":{"field":"I","type":"quantitative","scale":{"domain":[0,3.865],"nice":false,"zero":false},"axis":null}
},
"layer":[
{"data":{"name":"cv"},"transform":[{"filter":"datum.p==='a'"}],"mark":{"type":"line","color":"black","strokeWidth":1.5,"clip":false,"interpolate":"catmull-rom"},
"encoding":{"order":{"field":"o","type":"quantitative"},"detail":{"field":"c"},"strokeDash":{"field":"c","type":"nominal","scale":{"domain":["i","ii","iii","iv","v","vi"],"range":[[1,0],[1.5,3],[5,4],[9,4,2,4],[16,6],[14,4,2,4,2,4]]},"legend":null}}},
{"data":{"name":"bar"},"transform":[{"filter":"datum.p==='a'"}],"mark":{"type":"line","color":"black","strokeWidth":1.2},
"encoding":{"order":{"field":"o","type":"quantitative"},"detail":{"field":"s"}}},
{"data":{"name":"lab"},"transform":[{"filter":"datum.p==='a'"}],"mark":{"type":"text","fontSize":18,"fontStyle":"italic","align":"center","baseline":"middle"},
"encoding":{"text":{"field":"t"}}},
{"data":{"name":"unit"},"transform":[{"filter":"datum.p==='a'"}],"mark":{"type":"text","fontSize":19,"align":"center","baseline":"middle"},
"encoding":{"text":{"field":"t"}}},
{"data":{"name":"ttl"},"transform":[{"filter":"datum.t==='E'||datum.t==='vs.'"}],"mark":{"type":"text","fontSize":18,"fontStyle":"italic","align":"left","baseline":"alphabetic"},
"encoding":{"text":{"field":"t"}}},
{"data":{"name":"ttl"},"transform":[{"filter":"datum.t==='/V'||datum.t==='SCE'"}],"mark":{"type":"text","fontSize":18,"align":"left","baseline":"alphabetic"},
"encoding":{"text":{"field":"t"}}}
]
},
{
"width":454,"height":773,
"encoding":{
"x":{"field":"E","type":"quantitative","scale":{"domain":[-1.2352,-0.7789],"reverse":true,"nice":false,"zero":false},
"axis":{"values":[-0.8,-0.9,-1.0,-1.1,-1.2],"format":".1f","labelExpr":"abs(datum.value+0.9)<0.01||abs(datum.value+1.1)<0.01?'':datum.label","title":null,"grid":false,"domainColor":"#222","domainWidth":1,"tickColor":"#222","tickSize":-7,"tickWidth":1,"labelFontSize":18,"labelFont":"Liberation Sans","labelColor":"black","labelPadding":11,"labelOffset":-6,"labelFlush":false}},
"y":{"field":"I","type":"quantitative","scale":{"domain":[0,3.865],"nice":false,"zero":false},"axis":null}
},
"layer":[
{"data":{"name":"cv"},"transform":[{"filter":"datum.p==='b'"}],"mark":{"type":"line","color":"black","strokeWidth":1.5,"clip":false,"interpolate":"catmull-rom"},
"encoding":{"order":{"field":"o","type":"quantitative"},"detail":{"field":"c"},"strokeDash":{"field":"c","type":"nominal","scale":{"domain":["i","ii","iii","iv","v","vi"],"range":[[1,0],[1.5,3],[5,4],[9,4,2,4],[16,6],[1.5,3.5]]},"legend":null}}},
{"data":{"name":"bar"},"transform":[{"filter":"datum.p==='b'"}],"mark":{"type":"line","color":"black","strokeWidth":1.2},
"encoding":{"order":{"field":"o","type":"quantitative"},"detail":{"field":"s"}}},
{"data":{"name":"lab"},"transform":[{"filter":"datum.p==='b'"}],"mark":{"type":"text","fontSize":18,"fontStyle":"italic","align":"center","baseline":"middle"},
"encoding":{"text":{"field":"t"}}},
{"data":{"name":"unit"},"transform":[{"filter":"datum.p==='b'"}],"mark":{"type":"text","fontSize":19,"align":"center","baseline":"middle"},
"encoding":{"text":{"field":"t"}}}
]
}
]
}
